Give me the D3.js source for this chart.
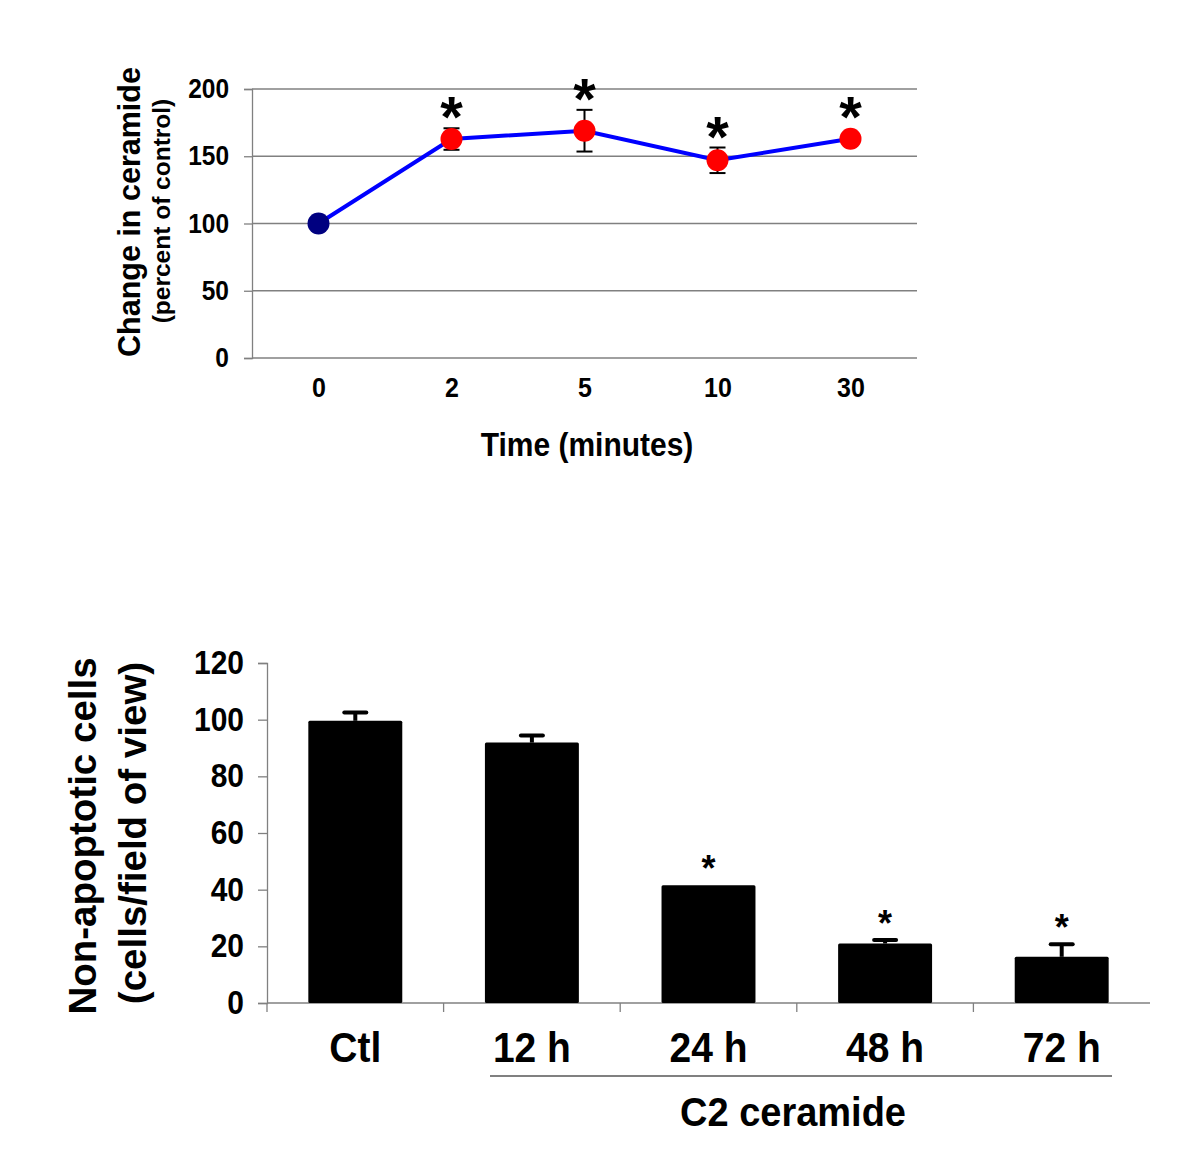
<!DOCTYPE html>
<html>
<head>
<meta charset="utf-8">
<script src="https://cdn.jsdelivr.net/npm/d3@7"></script>
<style>
  html, body { margin: 0; padding: 0; background: #fff; }
  svg { display: block; }
  text { font-family: Arial, "Liberation Sans", Helvetica, sans-serif; font-weight: bold; fill: #000; }
</style>
</head>
<body>
<script>
// ---------- Data: top chart (ceramide time course) ----------
const timeLabels = ["0", "2", "5", "10", "30"];
const ceramideValues = [100, 162.8, 169, 147, 163];
const ceramideErrors = [0, 8, 15.5, 9.5, 0];
const ceramideSignificant = [false, true, true, true, true];
const ceramideTicks = [0, 50, 100, 150, 200];

// ---------- Data: bottom chart (non-apoptotic cells) ----------
const groupLabels = ["Ctl", "12 h", "24 h", "48 h", "72 h"];
const cellValues = [99.6, 91.9, 41.6, 21, 16.3];
const cellErrors = [2.9, 2.5, 0, 1.2, 4.4];
const cellSignificant = [false, false, true, true, true];
const cellTicks = [0, 20, 40, 60, 80, 100, 120];

const W = 1200, H = 1161;
const svg = d3.select("body").append("svg").attr("width", W).attr("height", H);
const GRAY = "#808080";

// horizontal text slightly stretched vertically, like the reference
function hText(g, x, y, size, str, sy) {
  return g.append("text")
    .attr("transform", `translate(${x},${y}) scale(1,${sy})`)
    .attr("text-anchor", "middle").attr("font-size", size).text(str);
}

// ================= TOP CHART =================
{
  const x = d3.scalePoint().domain(timeLabels).range([252, 917]).padding(0.5);
  const y = d3.scaleLinear().domain([0, 200]).range([358, 89]);
  const g = svg.append("g");

  // gridlines
  g.selectAll("line.grid").data(ceramideTicks).join("line")
    .attr("x1", 252).attr("x2", 917)
    .attr("y1", d => y(d)).attr("y2", d => y(d))
    .attr("stroke", GRAY).attr("stroke-width", 1.3);

  // y axis
  const yAxis = g.append("g").attr("transform", "translate(252,0)")
    .call(d3.axisLeft(y).tickValues(ceramideTicks).tickSize(8).tickPadding(15));
  yAxis.select(".domain").attr("stroke", GRAY).attr("stroke-width", 1.3);
  yAxis.selectAll(".tick line").attr("stroke", GRAY).attr("stroke-width", 1.3);
  yAxis.selectAll(".tick text").attr("font-size", 24.5).attr("font-family", null)
    .attr("font-weight", "bold").attr("fill", "#000").attr("transform", "scale(1,1.1)");

  // x axis labels
  const xAxis = g.append("g").attr("transform", "translate(0,397)")
    .call(d3.axisBottom(x).tickSize(0).tickPadding(0));
  xAxis.select(".domain").remove();
  xAxis.selectAll(".tick text").attr("font-size", 25).attr("font-family", null)
    .attr("font-weight", "bold").attr("fill", "#000")
    .attr("y", 0).attr("dy", 0).attr("transform", "scale(1,1.12)");

  // x title
  hText(g, 587, 456, 30, "Time (minutes)", 1.1);

  // y titles
  g.append("text").attr("transform", "translate(140,212) rotate(-90)")
    .attr("text-anchor", "middle").attr("font-size", 30.5).text("Change in ceramide");
  g.append("text").attr("transform", "translate(170,211) rotate(-90)")
    .attr("text-anchor", "middle").attr("font-size", 24.5).text("(percent of control)");

  const pts = timeLabels.map((t, i) => ({ t, v: ceramideValues[i], e: ceramideErrors[i], s: ceramideSignificant[i], i }));

  // line
  g.append("path").datum(pts)
    .attr("d", d3.line().x(d => x(d.t)).y(d => y(d.v)))
    .attr("fill", "none").attr("stroke", "#0000ff").attr("stroke-width", 4);

  // error bars
  const eb = g.selectAll("g.err").data(pts.filter(d => d.e > 0)).join("g");
  eb.append("line").attr("x1", d => x(d.t)).attr("x2", d => x(d.t))
    .attr("y1", d => y(d.v + d.e)).attr("y2", d => y(d.v - d.e))
    .attr("stroke", "#000").attr("stroke-width", 2);
  eb.append("line").attr("x1", d => x(d.t) - 8).attr("x2", d => x(d.t) + 8)
    .attr("y1", d => y(d.v + d.e)).attr("y2", d => y(d.v + d.e))
    .attr("stroke", "#000").attr("stroke-width", 2);
  eb.append("line").attr("x1", d => x(d.t) - 8).attr("x2", d => x(d.t) + 8)
    .attr("y1", d => y(d.v - d.e)).attr("y2", d => y(d.v - d.e))
    .attr("stroke", "#000").attr("stroke-width", 2);

  // markers
  g.selectAll("circle.pt").data(pts).join("circle")
    .attr("cx", d => x(d.t)).attr("cy", d => y(d.v)).attr("r", 11)
    .attr("fill", d => d.i === 0 ? "#000080" : "#ff0000");

  // stars
  const fsStar = 58;
  g.selectAll("text.star").data(pts.filter(d => d.s)).join("text")
    .attr("x", d => x(d.t)).attr("text-anchor", "middle").attr("font-size", fsStar)
    .attr("font-family", "'Liberation Serif', 'Times New Roman', serif")
    .attr("y", d => Math.min(y(d.v + d.e), y(d.v) - 11) - 20 + 0.50 * fsStar)
    .text("*");
}

// ================= BOTTOM CHART =================
{
  const x = d3.scaleBand().domain(groupLabels).range([267, 1150]).paddingInner(0.468).paddingOuter(0.234);
  const y = d3.scaleLinear().domain([0, 120]).range([1003, 663]);
  const g = svg.append("g");

  // y axis
  const yAxis = g.append("g").attr("transform", "translate(267,0)")
    .call(d3.axisLeft(y).tickValues(cellTicks).tickSize(9).tickPadding(14));
  yAxis.select(".domain").attr("stroke", GRAY).attr("stroke-width", 1.3);
  yAxis.selectAll(".tick line").attr("stroke", GRAY).attr("stroke-width", 1.3);
  yAxis.selectAll(".tick text").attr("font-size", 30).attr("font-family", null)
    .attr("font-weight", "bold").attr("fill", "#000").attr("transform", "scale(1,1.1)");

  // x axis line & boundary ticks
  g.append("line").attr("x1", 267).attr("x2", 1150).attr("y1", 1003).attr("y2", 1003)
    .attr("stroke", GRAY).attr("stroke-width", 1.3);
  const step = x.step();
  g.selectAll("line.bt").data(groupLabels).join("line")
    .attr("x1", d => x(d) - (step - x.bandwidth()) / 2).attr("x2", d => x(d) - (step - x.bandwidth()) / 2)
    .attr("y1", 1003).attr("y2", 1012).attr("stroke", GRAY).attr("stroke-width", 1.3);

  // x labels
  const xAxis = g.append("g").attr("transform", "translate(0,1062)")
    .call(d3.axisBottom(x).tickSize(0).tickPadding(0));
  xAxis.select(".domain").remove();
  xAxis.selectAll(".tick text").attr("font-size", 39).attr("font-family", null)
    .attr("font-weight", "bold").attr("fill", "#000")
    .attr("y", 0).attr("dy", 0).attr("transform", "scale(1,1.1)");

  const bars = groupLabels.map((k, i) => ({ k, v: cellValues[i], e: cellErrors[i], s: cellSignificant[i] }));

  // error bars (upward only)
  const eb = g.selectAll("g.err").data(bars.filter(d => d.e > 0)).join("g");
  eb.append("line").attr("x1", d => x(d.k) + x.bandwidth() / 2).attr("x2", d => x(d.k) + x.bandwidth() / 2)
    .attr("y1", d => y(d.v)).attr("y2", d => y(d.v + d.e))
    .attr("stroke", "#000").attr("stroke-width", 4);
  eb.append("line").attr("x1", d => x(d.k) + x.bandwidth() / 2 - 11).attr("x2", d => x(d.k) + x.bandwidth() / 2 + 11)
    .attr("y1", d => y(d.v + d.e)).attr("y2", d => y(d.v + d.e))
    .attr("stroke", "#000").attr("stroke-width", 4).attr("stroke-linecap", "round");

  // bars
  g.selectAll("rect.bar").data(bars).join("rect")
    .attr("x", d => x(d.k)).attr("width", x.bandwidth())
    .attr("y", d => y(d.v)).attr("height", d => y(0) - y(d.v))
    .attr("fill", "#000").attr("rx", 1.5);

  // stars
  const fsStar = 36;
  g.selectAll("text.star").data(bars.filter(d => d.s)).join("text")
    .attr("x", d => x(d.k) + x.bandwidth() / 2).attr("text-anchor", "middle").attr("font-size", fsStar)
    .attr("y", d => y(d.v + d.e) - 24 + 0.55 * fsStar)
    .text("*");

  // group underline and label
  g.append("line").attr("x1", 490).attr("x2", 1112).attr("y1", 1076).attr("y2", 1076)
    .attr("stroke", GRAY).attr("stroke-width", 2);
  hText(g, 793, 1126, 38, "C2 ceramide", 1.08);

  // y titles
  g.append("text").attr("transform", "translate(96,836) rotate(-90)")
    .attr("text-anchor", "middle").attr("font-size", 38.5).text("Non-apoptotic cells");
  g.append("text").attr("transform", "translate(146,833) rotate(-90)")
    .attr("text-anchor", "middle").attr("font-size", 38.5).text("(cells/field of view)");
}
</script>
</body>
</html>
